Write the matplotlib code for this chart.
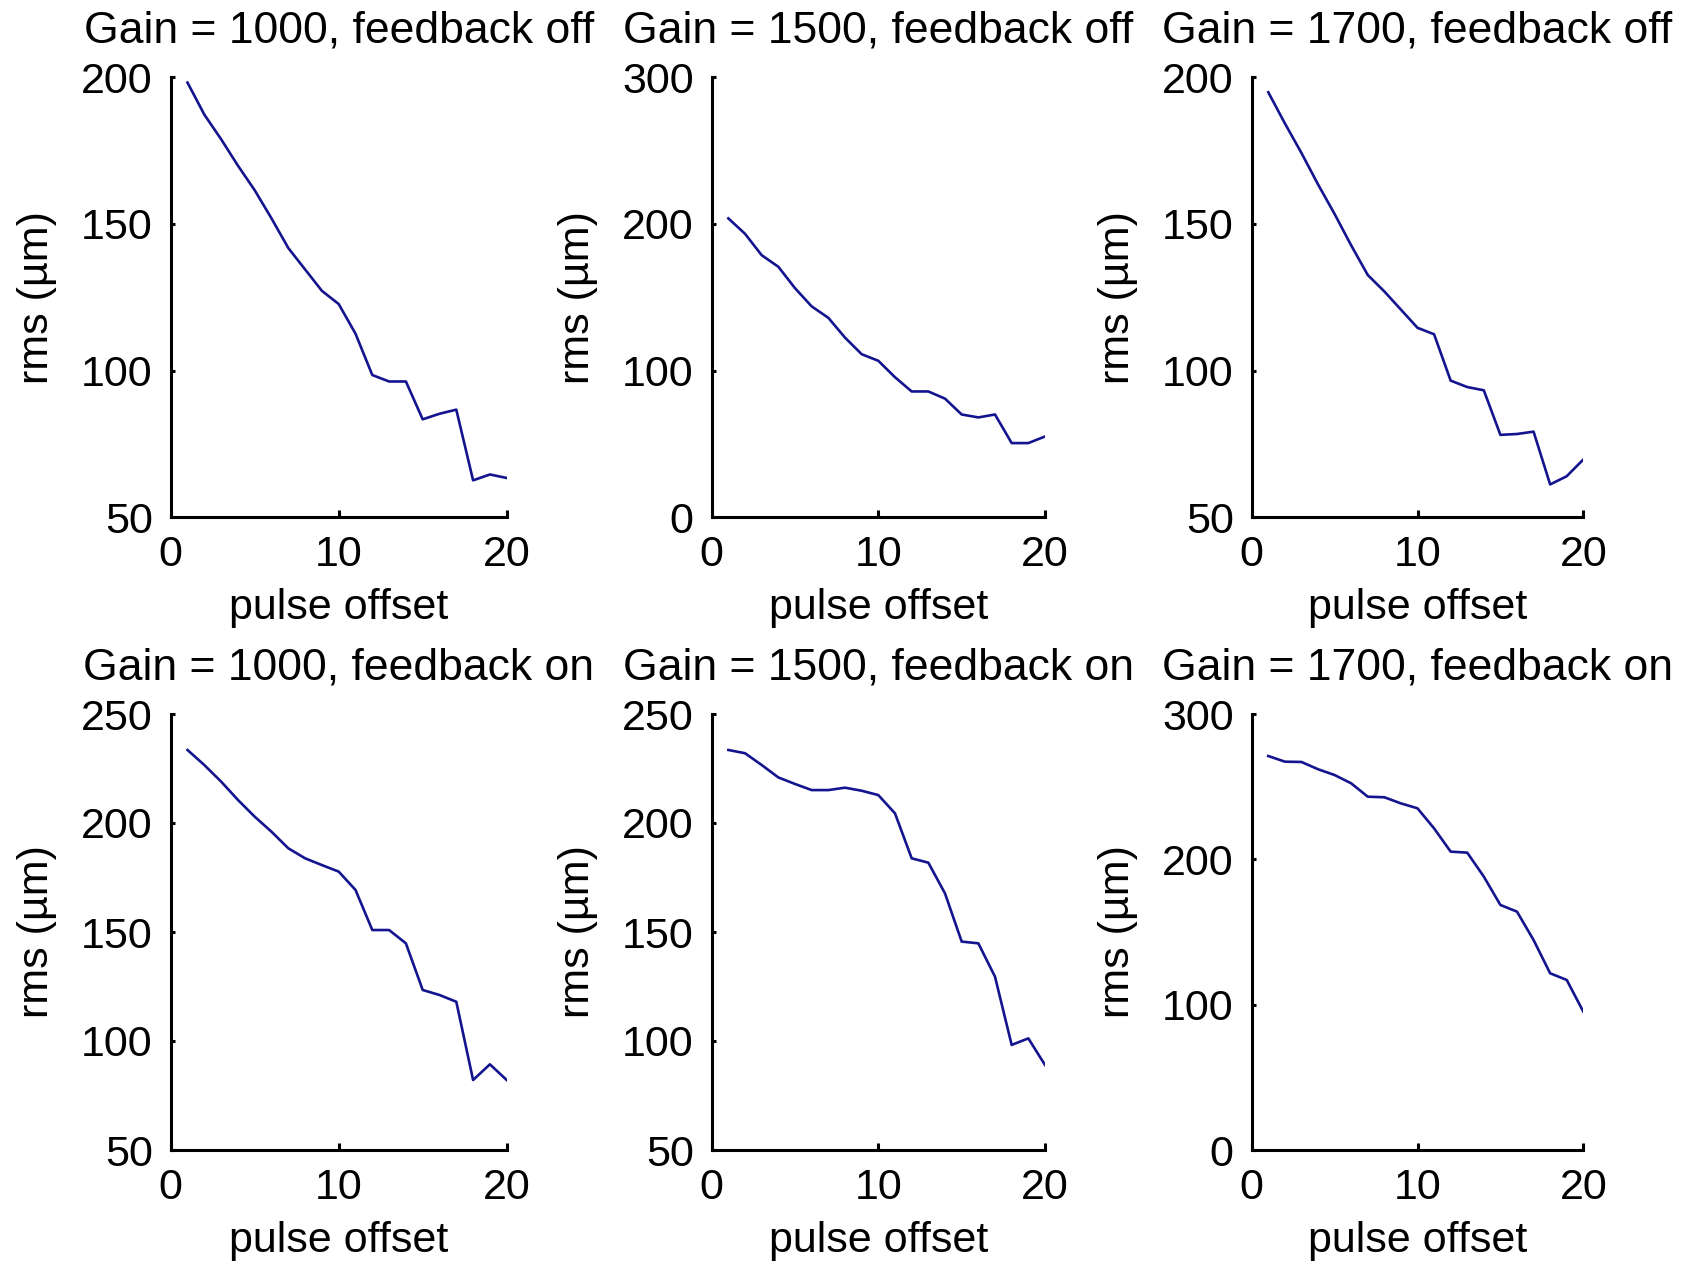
import matplotlib
matplotlib.use("Agg")
import matplotlib.pyplot as plt

plt.rcParams["font.family"] = ["Liberation Sans", "DejaVu Sans"]

FIG_W, FIG_H = 1686, 1265
DPI = 100
LINE_COLOR = "#14148f"

pulse = list(range(1, 21))

rms_1000_off = [198.2, 187.3, 178.9, 169.9, 161.5, 151.9, 141.8, 134.5, 127.2, 122.7,
                112.6, 98.5, 96.3, 96.3, 83.4, 85.3, 86.7, 62.6, 64.6, 63.4]
rms_1500_off = [203.8, 193.3, 178.7, 170.8, 156.2, 143.8, 136.0, 122.5, 111.2, 106.7,
                95.5, 85.8, 85.8, 80.9, 70.1, 68.1, 70.1, 50.6, 50.6, 55.1]
rms_1700_off = [194.9, 184.3, 174.2, 163.5, 153.4, 142.7, 132.6, 127.0, 120.8, 114.6,
                112.4, 96.6, 94.4, 93.3, 78.1, 78.4, 79.2, 61.2, 64.0, 69.7]
rms_1000_on = [233.5, 226.6, 219.0, 210.6, 202.9, 196.0, 188.4, 183.8, 180.7, 177.7,
               169.3, 150.9, 150.9, 144.8, 123.4, 121.1, 118.0, 82.1, 89.3, 82.1]
rms_1500_on = [233.5, 232.0, 226.6, 220.9, 217.9, 215.1, 215.1, 216.2, 214.8, 212.8,
               204.4, 183.8, 181.8, 167.7, 145.6, 144.8, 129.5, 98.2, 101.2, 89.0]
rms_1700_on = [271.1, 267.2, 267.0, 262.0, 258.0, 252.3, 243.1, 242.7, 238.5, 235.1,
               221.3, 205.3, 204.6, 188.1, 168.6, 164.0, 144.5, 121.6, 117.0, 95.2]

titles = [
    "Gain = 1000, feedback off", "Gain = 1500, feedback off", "Gain = 1700, feedback off",
    "Gain = 1000, feedback on", "Gain = 1500, feedback on", "Gain = 1700, feedback on",
]
series = [rms_1000_off, rms_1500_off, rms_1700_off, rms_1000_on, rms_1500_on, rms_1700_on]
ylims = [(50, 200), (0, 300), (50, 200), (50, 250), (50, 250), (0, 300)]
yticks = [
    [50, 100, 150, 200], [0, 100, 200, 300], [50, 100, 150, 200],
    [50, 100, 150, 200, 250], [50, 100, 150, 200, 250], [0, 100, 200, 300],
]
xticks = [0, 10, 20]

# axes boxes in pixels: left, right, top, bottom
col_px = [(170.7, 506.7), (711.7, 1045.0), (1251.7, 1583.3)]
row_px = [(77.3, 517.3), (714.0, 1150.0)]

fig = plt.figure(figsize=(FIG_W / DPI, FIG_H / DPI), dpi=DPI)

for i in range(6):
    r, c = divmod(i, 3)
    x0, x1 = col_px[c]
    y0, y1 = row_px[r]
    ax = fig.add_axes([x0 / FIG_W, 1 - y1 / FIG_H, (x1 - x0) / FIG_W, (y1 - y0) / FIG_H])

    ax.plot(pulse, series[i], color=LINE_COLOR, linewidth=1.9)

    ax.set_xlim(0, 20)
    ax.set_ylim(*ylims[i])
    ax.set_xticks(xticks)
    ax.set_yticks(yticks[i])

    for side in ["top", "right"]:
        ax.spines[side].set_visible(False)
    for side in ["left", "bottom"]:
        ax.spines[side].set_linewidth(2.2)

    ax.tick_params(axis="both", direction="in", width=2.2, labelsize=31, pad=13)
    ax.tick_params(axis="y", length=3)
    ax.tick_params(axis="x", length=5)

    ax.set_xlabel("pulse offset", fontsize=31, labelpad=9)
    ax.set_ylabel("rms (\u00b5m)", fontsize=31, labelpad=17)
    ax.set_title(titles[i], fontsize=32, pad=25)

fig.savefig("out.png", dpi=DPI)
